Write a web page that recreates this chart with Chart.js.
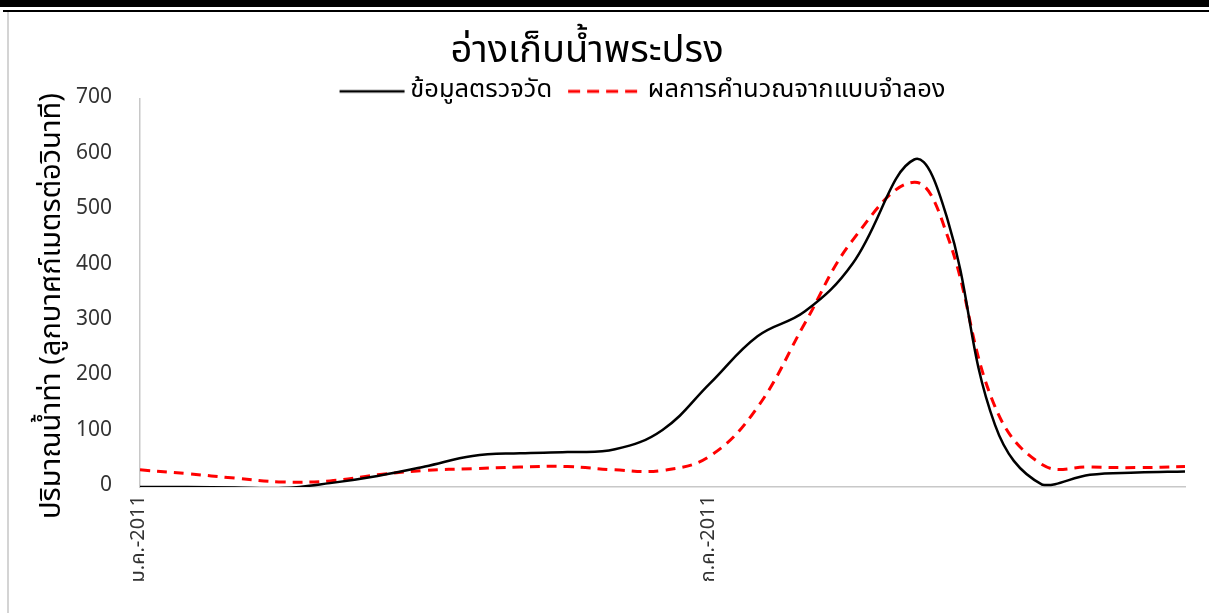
<!DOCTYPE html>
<html>
<head>
<meta charset="utf-8">
<script src="https://cdn.jsdelivr.net/npm/chart.js@4/dist/chart.umd.min.js"></script>
<style>
  body { margin: 0; background: #fff; width: 1209px; height: 613px; overflow: hidden; position: relative; }
  .topbar { position: absolute; left: 0; top: 0; width: 1209px; height: 7px; background: #000; }
  .topline { position: absolute; left: 3px; top: 10px; width: 1206px; height: 2px; background: #000; }
  .leftline { position: absolute; left: 7px; top: 12px; width: 2px; height: 601px; background: #d4d4d4; }
  .wrap { position: absolute; left: 9px; top: 12px; width: 1200px; height: 601px; }
</style>
</head>
<body>
<div class="topbar"></div>
<div class="topline"></div>
<div class="leftline"></div>
<div class="wrap"><canvas id="flowChart"></canvas></div>
<script>
const FONT = "Tahoma, 'Leelawadee UI', 'Noto Sans Thai', 'DejaVu Sans', sans-serif";

// x position in months from Jan 2011 (0 = ม.ค., 6 = ก.ค.)
const monthPos = [0, 0.5, 1, 1.5, 2, 2.5, 3, 3.5, 4, 4.5, 5, 5.5, 6, 6.5, 7, 7.5, 8.15, 8.5, 9, 9.5, 10, 10.5, 11];
// measured discharge (m3/s)
const observed = [0, 0, -1, -2, 7, 20, 37, 56, 61, 63, 68, 103, 187, 272, 317, 403, 591, 483, 112, 4, 22, 26, 28];
// simulated discharge (m3/s)
const simulated = [31, 24, 16, 9, 11, 22, 30, 33, 36, 37, 31, 30, 56, 144, 296, 445, 550, 453, 145, 40, 36, 35, 37];

const xTickValues = [0, 6];
const xTickLabels = ['ม.ค.-2011', 'ก.ค.-2011'];

const seriesNames = ['ข้อมูลตรวจวัด', 'ผลการคำนวณจากแบบจำลอง'];
const chartTitle = 'อ่างเก็บน้ำพระปรง';
const yTitle = 'ปริมาณน้ำท่า (ลูกบาศก์เมตรต่อวินาที)';

// legend swatches (chart.js closes the 'line' point path, which hides dashes)
function legendLine(color, width, dash, from, to) {
  const c = document.createElement('canvas');
  c.width = 81;
  c.height = 6;
  const g = c.getContext('2d');
  g.strokeStyle = color;
  g.lineWidth = width;
  g.setLineDash(dash);
  g.beginPath();
  g.moveTo(from, 3);
  g.lineTo(to, 3);
  g.stroke();
  return c;
}
const blackSwatch = legendLine('#000', 2.5, [], 15, 80);
const redSwatch = legendLine('#ff0000', 3, [12, 7], 6, 76);

// shift title / legend / y title to where they sit in the original
const nudge = {
  id: 'nudge',
  afterLayout(chart) {
    const t = chart.titleBlock;
    if (t) { t.left -= 10; t.right -= 10; t.top += 32; t.bottom += 32; }
    const l = chart.legend;
    if (l) { l.left += 42; l.right += 42; l.top += 15; l.bottom += 15; }
    const y = chart.scales.y;
    if (y && !y._wrapped) {
      const base = y.drawTitle;
      y.drawTitle = function () {
        this.top += 13; this.bottom += 13;
        base.apply(this, arguments);
        this.top -= 13; this.bottom -= 13;
      };
      y._wrapped = true;
    }
  }
};

const ctx = document.getElementById('flowChart').getContext('2d');
new Chart(ctx, {
  type: 'line',
  data: {
    datasets: [{
      label: seriesNames[0],
      data: monthPos.map((x, i) => ({ x: x, y: observed[i] })),
      borderColor: '#000',
      borderWidth: 2.5,
      pointRadius: 0,
      pointStyle: blackSwatch,
      tension: 0.4,
      fill: false
    }, {
      label: seriesNames[1],
      data: monthPos.map((x, i) => ({ x: x, y: simulated[i] })),
      borderColor: '#ff0000',
      borderWidth: 3,
      borderDash: [10, 7],
      pointRadius: 0,
      pointStyle: redSwatch,
      tension: 0.4,
      fill: false
    }]
  },
  plugins: [nudge],
  options: {
    responsive: true,
    maintainAspectRatio: false,
    animation: false,
    layout: { padding: { top: -12, right: 24, bottom: 0, left: 0 } },
    plugins: {
      title: {
        display: true,
        text: chartTitle,
        color: '#000',
        font: { family: FONT, size: 38, weight: 'normal' },
        padding: { top: 0, bottom: 0 }
      },
      legend: {
        display: true,
        labels: {
          color: '#000',
          font: { family: FONT, size: 25.5 },
          usePointStyle: true,
          pointStyleWidth: 65,
          padding: 18
        }
      },
      tooltip: { enabled: false }
    },
    scales: {
      x: {
        type: 'linear',
        min: 0,
        max: 11,
        grid: { display: false },
        border: { display: true, color: '#c8c8c8', width: 1.5 },
        afterBuildTicks: scale => { scale.ticks = xTickValues.map(v => ({ value: v })); },
        afterFit: scale => { scale.height = 126; },
        ticks: {
          autoSkip: false,
          minRotation: 90,
          maxRotation: 90,
          padding: 0,
          color: '#333',
          font: { family: FONT, size: 20 },
          callback: v => xTickLabels[xTickValues.indexOf(v)] || ''
        }
      },
      y: {
        min: 0,
        max: 700,
        grid: { display: false },
        border: { display: true, color: '#c8c8c8', width: 1.5 },
        afterFit: scale => { scale.width = 131; },
        ticks: {
          stepSize: 100,
          padding: 20,
          color: '#333',
          font: { family: FONT, size: 21 }
        },
        title: {
          display: true,
          text: yTitle,
          color: '#000',
          font: { family: FONT, size: 29 },
          padding: { top: 28, bottom: 0 }
        }
      }
    }
  }
});
</script>
</body>
</html>
